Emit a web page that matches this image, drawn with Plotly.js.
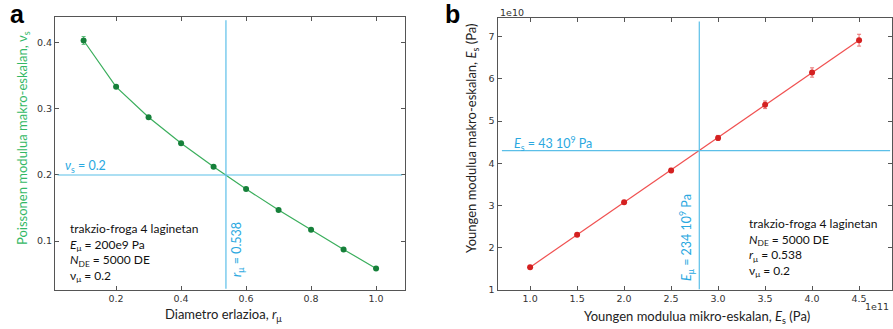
<!DOCTYPE html>
<html><head><meta charset="utf-8">
<script src="https://cdn.plot.ly/plotly-3.0.1.min.js"></script>
<style>html,body{margin:0;padding:0;background:#fff}#chart{width:893px;height:329px}</style>
</head><body><div id="chart"></div>
<script>
// Panel a: Poisson ratio vs diameter ratio
const rMu = [0.1, 0.2, 0.3, 0.4, 0.5, 0.6, 0.7, 0.8, 0.9, 1.0];
const nuS = [0.4035, 0.3333, 0.2874, 0.248, 0.2126, 0.1788, 0.147, 0.117, 0.0874, 0.0586];
const nuSErr = [0.006, 0.002, 0.0015, 0.0015, 0.0015, 0.0015, 0.0015, 0.0015, 0.0015, 0.0015];
const rMuTarget = 0.538;
const nuSTarget = 0.2;
const xTicksA = [0.2, 0.4, 0.6, 0.8, 1.0];
const yTicksA = [0.1, 0.2, 0.3, 0.4];

// Panel b: Young modulus macro vs micro
const eMu = [1.0e11, 1.5e11, 2.0e11, 2.5e11, 3.0e11, 3.5e11, 4.0e11, 4.5e11];
const eS = [1.54e10, 2.31e10, 3.08e10, 3.83e10, 4.60e10, 5.385e10, 6.15e10, 6.915e10];
const eSErr = [0.03e10, 0.03e10, 0.04e10, 0.05e10, 0.06e10, 0.09e10, 0.11e10, 0.14e10];
const eMuTarget = 2.8e11;
const eSTarget = 4.3e10;
const xTicksB = [1.0e11, 1.5e11, 2.0e11, 2.5e11, 3.0e11, 3.5e11, 4.0e11, 4.5e11];
const xTickLabelsB = ['1.0', '1.5', '2.0', '2.5', '3.0', '3.5', '4.0', '4.5'];
const yTicksB = [1e10, 2e10, 3e10, 4e10, 5e10, 6e10, 7e10];
const yTickLabelsB = ['1', '2', '3', '4', '5', '6', '7'];

const W = 893, H = 329;
const px = v => v / W;
const py = v => 1 - v / H;
const blue = '#5bbfe8';
const blueText = '#2aa8df';
const txtFont = 'Lato, "Liberation Sans", sans-serif';
const tickFont = {family: '"DejaVu Sans", sans-serif', size: 9.5, color: '#333'};

const axisCommon = {
  showline: true, linecolor: '#555', linewidth: 1, mirror: 'ticks',
  ticks: 'inside', ticklen: 4, tickcolor: '#555', showgrid: false, zeroline: false,
  tickfont: tickFont
};

function ann(text, x, y, opts) {
  return Object.assign({text: text, xref: 'paper', yref: 'paper', x: px(x), y: py(y),
    xanchor: 'center', yanchor: 'middle', showarrow: false}, opts);
}

const data = [
  {x: rMu, y: nuS, type: 'scatter', mode: 'lines+markers', xaxis: 'x', yaxis: 'y',
   line: {color: '#3aae5c', width: 1.2},
   marker: {color: '#16803a', size: 6},
   error_y: {type: 'data', array: nuSErr, visible: true, color: '#5cbf7a', thickness: 1, width: 2}},
  {x: eMu, y: eS, type: 'scatter', mode: 'lines+markers', xaxis: 'x2', yaxis: 'y2',
   line: {color: '#f05050', width: 1.2},
   marker: {color: '#d42020', size: 6},
   error_y: {type: 'data', array: eSErr, visible: true, color: '#e87070', thickness: 1, width: 2}}
];

const layout = {
  width: W, height: H, margin: {l: 0, r: 0, t: 0, b: 0},
  paper_bgcolor: '#fff', plot_bgcolor: '#fff', showlegend: false,
  xaxis: Object.assign({}, axisCommon, {domain: [px(55), px(405)], range: [0.012, 1.089],
    tickvals: xTicksA, tickformat: '.1f', anchor: 'y'}),
  yaxis: Object.assign({}, axisCommon, {domain: [py(290), py(17)], range: [0.026, 0.439],
    tickvals: yTicksA, tickformat: '.1f', anchor: 'x'}),
  xaxis2: Object.assign({}, axisCommon, {domain: [px(497.5), px(891.5)], range: [0.653e11, 4.845e11],
    tickvals: xTicksB, ticktext: xTickLabelsB, anchor: 'y2'}),
  yaxis2: Object.assign({}, axisCommon, {domain: [py(290), py(18)], range: [1.0e10, 7.44e10],
    tickvals: yTicksB, ticktext: yTickLabelsB, anchor: 'x2'}),
  shapes: [
    {type: 'line', xref: 'x', yref: 'y', x0: rMuTarget, x1: rMuTarget, y0: 0.028, y1: 0.434, line: {color: blue, width: 1.2}},
    {type: 'line', xref: 'x', yref: 'y', x0: 0.02, x1: 1.08, y0: nuSTarget, y1: nuSTarget, line: {color: blue, width: 1.2}},
    {type: 'line', xref: 'x2', yref: 'y2', x0: eMuTarget, x1: eMuTarget, y0: 1.02e10, y1: 7.36e10, line: {color: blue, width: 1.2}},
    {type: 'line', xref: 'x2', yref: 'y2', x0: 0.7e11, x1: 4.83e11, y0: eSTarget, y1: eSTarget, line: {color: blue, width: 1.2}}
  ],
  annotations: [
    ann('<b>a</b>', 17, 14, {font: {family: '"Liberation Sans", Arial, sans-serif', size: 25, color: '#000'}}),
    ann('<b>b</b>', 452, 14, {font: {family: '"Liberation Sans", Arial, sans-serif', size: 25, color: '#000'}}),
    ann('Diametro erlazioa, <i>r</i><sub>μ</sub>', 223, 315, {font: {family: txtFont, size: 13, color: '#222'}}),
    ann('Poissonen modulua makro-eskalan, ν<sub>s</sub>', 23, 138, {textangle: -90, font: {family: txtFont, size: 13, color: '#33b865'}}),
    ann('Youngen modulua mikro-eskalan, <i>E</i><sub>s</sub> (Pa)', 697, 317, {font: {family: txtFont, size: 13, color: '#222'}}),
    ann('Youngen modulua makro-eskalan, <i>E</i><sub>s</sub> (Pa)', 472, 138, {textangle: -90, font: {family: txtFont, size: 13, color: '#222'}}),
    ann('1e10', 498, 12, {xanchor: 'left', font: tickFont}),
    ann('1e11', 891, 306, {xanchor: 'right', font: tickFont}),
    ann('<i>ν</i><sub>s</sub> = 0.2', 63, 166, {xanchor: 'left', font: {family: txtFont, size: 12.5, color: blueText}}),
    ann('<i>r</i><sub>μ</sub> = 0.538', 237, 250, {textangle: -90, font: {family: txtFont, size: 12.5, color: blueText}}),
    ann('<i>E</i><sub>s</sub> = 43 10<sup>9</sup> Pa', 512, 143, {xanchor: 'left', font: {family: txtFont, size: 12.5, color: blueText}}),
    ann('<i>E</i><sub>μ</sub> = 234 10<sup>9</sup> Pa', 686, 238, {textangle: -90, font: {family: txtFont, size: 12.5, color: blueText}}),
    ann('trakzio-froga 4 laginetan<br><i>E</i><sub>μ</sub> = 200e9 Pa<br><i>N</i><sub>DE</sub> = 5000 DE<br>ν<sub>μ</sub> = 0.2',
        68, 252, {xanchor: 'left', align: 'left', font: {family: txtFont, size: 12, color: '#111'}}),
    ann('trakzio-froga 4 laginetan<br><i>N</i><sub>DE</sub> = 5000 DE<br><i>r</i><sub>μ</sub> = 0.538<br>ν<sub>μ</sub> = 0.2',
        746.5, 247, {xanchor: 'left', align: 'left', font: {family: txtFont, size: 12, color: '#111'}})
  ]
};

Plotly.newPlot('chart', data, layout, {displayModeBar: false, staticPlot: true});
</script></body></html>
